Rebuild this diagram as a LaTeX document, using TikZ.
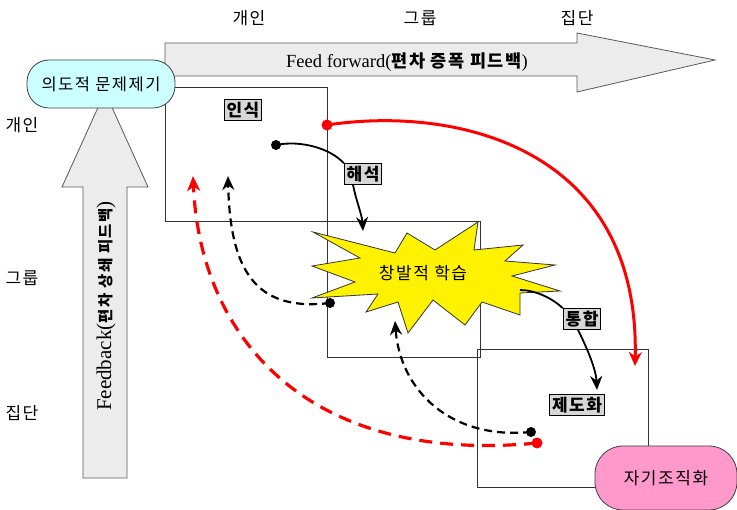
\documentclass[tikz,border=0pt]{standalone}
\usepackage{fontspec}
\setmainfont{Liberation Serif}
\newfontfamily\kr[LetterSpace=9]{Noto Sans CJK KR}
\usetikzlibrary{arrows.meta}
\definecolor{pillcyan}{RGB}{204,255,255}
\definecolor{pillpink}{RGB}{255,153,204}
\definecolor{tagfill}{RGB}{215,215,215}
\definecolor{arrowfill}{RGB}{236,236,236}
\tikzset{
  frame/.style={draw=black!80, line width=0.8pt},
  bigarrow/.style={draw=black!65, fill=arrowfill, line width=0.8pt},
  tag/.style={draw=black, line width=1.2pt, fill=tagfill, font=\kr\bfseries\fontsize{17}{19}\selectfont, inner sep=2.2pt},
  plain/.style={font=\kr\fontsize{17}{19}\selectfont, inner sep=0pt},
  blackflow/.style={line width=1.8pt, -{Stealth[length=14pt,width=12pt,inset=4.5pt]}},
  blackline/.style={line width=1.8pt},
  redflow/.style={red, line width=3pt, -{Stealth[length=14pt,width=13pt,inset=4.5pt]}},
  blackdash/.style={line width=2.2pt, dash pattern=on 8pt off 5pt, -{Stealth[length=14pt,width=12pt,inset=4.5pt]}},
  reddash/.style={red, line width=3.2pt, dash pattern=on 13pt off 8pt, -{Stealth[length=15pt,width=13pt,inset=4.5pt]}},
  dotb/.style={circle, fill=black, inner sep=0pt, minimum size=10pt},
  dotr/.style={circle, fill=red, inner sep=0pt, minimum size=11pt},
  pill/.style={draw=black!75, line width=0.8pt, rounded corners=22pt, font=\kr\fontsize{16.5}{18}\selectfont},
}
\begin{document}
\begin{tikzpicture}[x=1pt,y=-1pt]
\useasboundingbox (0,0) rectangle (737,510);
\fill[white] (0,0) rectangle (737,510);

% level labels
\node[plain] (tg) at (249,18) {개인};
\node[plain] (tgr) at (420,18) {그룹};
\node[plain] (tj) at (577,18) {집단};
\node[plain] (lg) at (22,125) {개인};
\node[plain] (lgr) at (22,278) {그룹};
\node[plain] (lj) at (22,413) {집단};

% frames
\draw[frame] (165,87) rectangle (327,221);
\draw[frame] (327,221) rectangle (480,357);
\draw[frame] (477,349) rectangle (648,487);

% big arrows
\draw[bigarrow] (165,43) -- (577,43) -- (577,33) -- (715,60) -- (577,92) -- (577,76) -- (165,76) -- cycle;
\node[inner sep=0pt, font=\fontsize{18.5}{20}\selectfont] (ff) at (407,62) {Feed forward({\kr\bfseries\fontsize{17.5}{20}\selectfont 편차 증폭 피드백})};
\draw[bigarrow] (83,478) -- (83,187) -- (62,187) -- (105,92) -- (148,187) -- (127,187) -- (127,478) -- cycle;
\node[rotate=90, inner sep=0pt, font=\fontsize{21}{22}\selectfont] (fb) at (106,306) {Feedback({\kr\bfseries\fontsize{15.5}{20}\selectfont 편차 상쇄 피드백})};

% star
\draw[fill=yellow, draw=black!80, line width=0.8pt]
 (313,232) -- (395,253) -- (407,233) -- (435,250) -- (478,222) -- (474,250) -- (523,245) -- (505,261)
 -- (555,265) -- (512,276) -- (560,291) -- (520,293) -- (520,315) -- (482,302) -- (465,325) -- (433,300)
 -- (408,333) -- (398,302) -- (366,312) -- (378,294) -- (312,298) -- (355,282) -- (312,266) -- (360,258) -- cycle;
\node[plain] (star) at (423,273) {창발적 학습};

% tags
\node[tag] (insik) at (243,110) {인식};
\node[tag] (haeseok) at (363,174) {해석};
\node[tag] (tonghap) at (582,319) {통합};
\node[tag] (jedo) at (577,405) {제도화};

% dots and end points
\node[dotb] (d1) at (276,145) {};
\node[dotr] (r1) at (327,125) {};
\node[dotb] (d2) at (330,303) {};
\node[dotb] (d3) at (531,432) {};
\node[dotr] (r2) at (537,443) {};
\coordinate (s1) at (520,290);
\coordinate (e1) at (363,231);
\coordinate (e2) at (597,390);
\coordinate (e3) at (635,366);
\coordinate (e4) at (228,176);
\coordinate (e5) at (395,321);
\coordinate (e6) at (193,176);

% solid black flow
\draw[blackline] (d1.center) .. controls (300,140) and (330,148) .. (haeseok.north west);
\draw[blackflow] ([xshift=-10pt]haeseok.south) .. controls (356,200) and (362,215) .. (e1);
\draw[blackline] (s1) .. controls (535,290) and (552,298) .. (tonghap.north west);
\draw[blackflow] ([xshift=-4pt]tonghap.south) .. controls (588,350) and (596,370) .. (e2);

% red solid
\draw[redflow] (r1.center) .. controls (460,105) and (640,150) .. (e3);

% dashed returns
\draw[blackdash] (d2.center) .. controls (255,312) and (230,270) .. (e4);
\draw[blackdash] (d3.center) .. controls (450,440) and (400,390) .. (e5);
\draw[reddash] (r2.center) .. controls (310,465) and (200,340) .. (e6);

% pills
\node[pill, fill=pillcyan, minimum width=148pt, minimum height=48pt] (pq) at (101,84) {의도적 문제제기};
\node[pill, fill=pillpink, rounded corners=28pt, minimum width=142pt, minimum height=64pt, font=\kr\fontsize{17}{18}\selectfont] (so) at (666,478) {자기조직화};
\end{tikzpicture}
\end{document}
